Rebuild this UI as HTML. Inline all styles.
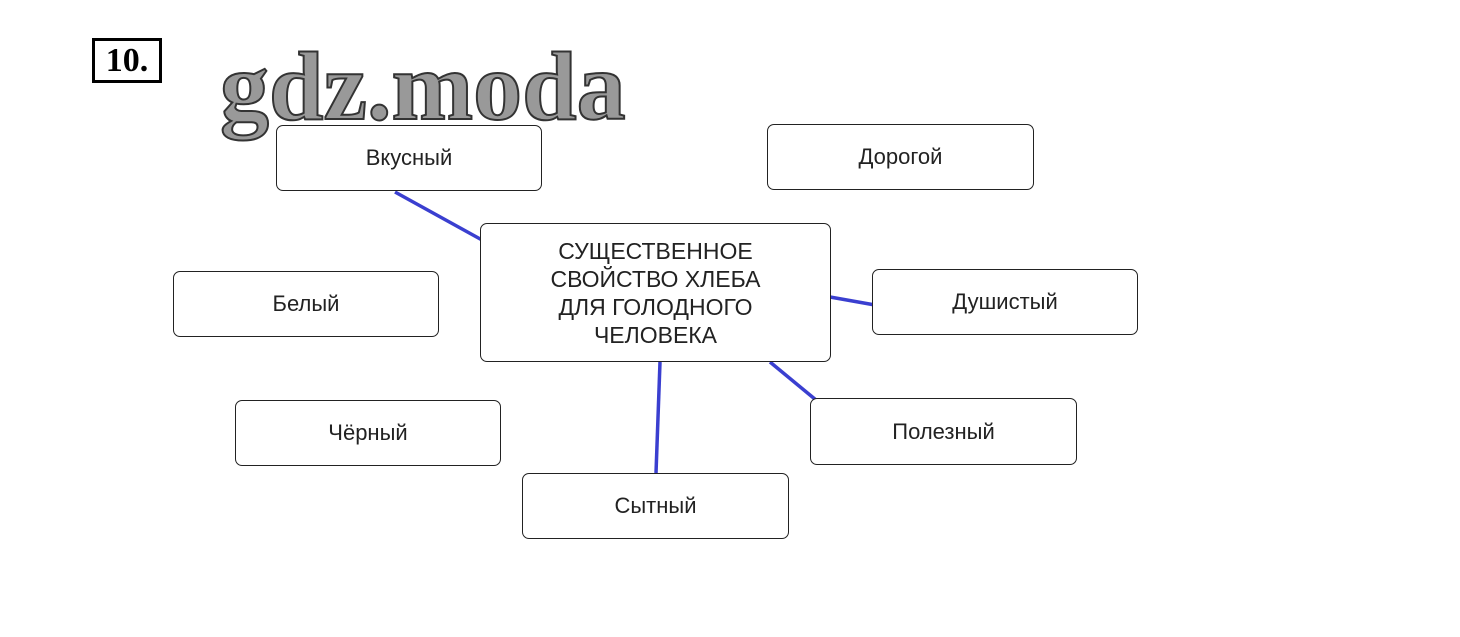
<!DOCTYPE html>
<html><head><meta charset="utf-8"><style>
body{margin:0;width:1460px;height:637px;background:#fff;position:relative;overflow:hidden;font-family:"Liberation Sans",sans-serif}
.b{position:absolute;box-sizing:border-box;border:1.5px solid #222;border-radius:7px;background:#fff;display:flex;align-items:center;justify-content:center;font-size:22px;color:#222}
.num{position:absolute;left:92px;top:38px;width:70px;height:45px;box-sizing:border-box;border:3px solid #000;font:bold 34px "Liberation Serif",serif;display:flex;align-items:center;justify-content:center}
.wm{position:absolute;left:220px;top:38px;font:bold 98px "Liberation Serif",serif;color:#999;-webkit-text-stroke:2px #333;letter-spacing:0px;line-height:1}
</style></head><body>
<div class="num">10.</div>
<svg style="position:absolute;left:0;top:0" width="1460" height="637">
<g stroke="#3a3fd0" stroke-width="3.5">
<line x1="395" y1="192" x2="482" y2="240"/>
<line x1="830" y1="297" x2="875" y2="305"/>
<line x1="660" y1="362" x2="656" y2="473"/>
<line x1="770" y1="362" x2="816" y2="400"/>
</g></svg>
<div class="b" style="left:276px;top:125px;width:266px;height:66px">Вкусный</div>
<div class="wm">gdz.moda</div>
<div class="b" style="left:767px;top:124px;width:267px;height:66px">Дорогой</div>
<div class="b" style="left:480px;top:223px;width:351px;height:139px;font-size:23px;text-align:center;line-height:28px">СУЩЕСТВЕННОЕ<br>СВОЙСТВО ХЛЕБА<br>ДЛЯ ГОЛОДНОГО<br>ЧЕЛОВЕКА</div>
<div class="b" style="left:173px;top:271px;width:266px;height:66px">Белый</div>
<div class="b" style="left:872px;top:269px;width:266px;height:66px">Душистый</div>
<div class="b" style="left:235px;top:400px;width:266px;height:66px">Чёрный</div>
<div class="b" style="left:810px;top:398px;width:267px;height:67px">Полезный</div>
<div class="b" style="left:522px;top:473px;width:267px;height:66px">Сытный</div>
</body></html>
